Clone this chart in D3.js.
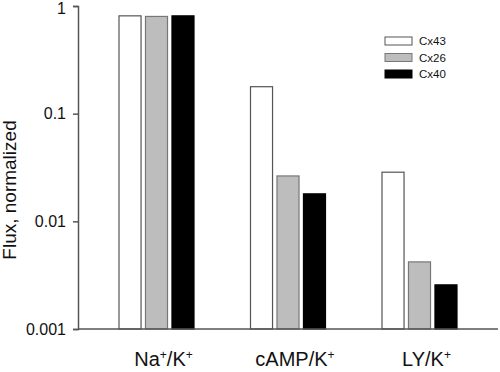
<!DOCTYPE html>
<html lang="en">
<head>
    <meta charset="UTF-8">
    <title>Flux, normalized</title>
    <script src="https://d3js.org/d3.v7.min.js"></script>
    <style>
        body { margin: 0; padding: 0; background: #fff; }
        text { font-family: "Liberation Sans", Arial, sans-serif; fill: #111; }
    </style>
</head>
<body>
    <div id="chart"></div>

    <script>
        // Data
        const categories = ["Na/K", "cAMP/K", "LY/K"];
        const catLabels = [["Na", "+", "/K", "+"], ["cAMP/K", "+"], ["LY/K", "+"]];
        const seriesNames = ["Cx43", "Cx26", "Cx40"];
        const cx43 = [0.81, 0.178, 0.0286];
        const cx26 = [0.80, 0.0264, 0.0042];
        const cx40 = [0.81, 0.0180, 0.00257];
        const yTicks = [0.001, 0.01, 0.1, 1];
        const yTickLabels = ["0.001", "0.01", "0.1", "1"];

        const fills = { Cx43: "#ffffff", Cx26: "#bdbdbd", Cx40: "#000000" };
        const strokes = { Cx43: "#555", Cx26: "#777", Cx40: "#000" };

        const width = 500, height = 372;
        const svg = d3.select("#chart").append("svg")
            .attr("width", width)
            .attr("height", height);

        const mLeft = 78, mRight = 498, mTop = 6, mBottom = 329;

        const y = d3.scaleLog().domain([0.001, 1]).range([mBottom, mTop]);
        const x0 = d3.scaleBand().domain(categories).range([mLeft, mRight])
            .paddingInner(0.422).paddingOuter(0.308);
        const x1 = d3.scaleBand().domain(seriesNames).range([0, x0.bandwidth()])
            .paddingInner(0.13);

        const rows = categories.map((c, i) => ({
            cat: c,
            values: [cx43[i], cx26[i], cx40[i]].map((v, j) => ({ name: seriesNames[j], v: v }))
        }));

        // bars
        const g = svg.selectAll("g.grp").data(rows).enter().append("g")
            .attr("class", "grp")
            .attr("transform", d => `translate(${x0(d.cat)},0)`);
        g.selectAll("rect").data(d => d.values).enter().append("rect")
            .attr("x", d => x1(d.name) + 0.5)
            .attr("y", d => y(d.v))
            .attr("width", x1.bandwidth() - 1)
            .attr("height", d => mBottom - y(d.v))
            .attr("fill", d => fills[d.name])
            .attr("stroke", d => strokes[d.name])
            .attr("stroke-width", 1.2);

        // y axis
        const yAxis = d3.axisLeft(y).tickValues(yTicks)
            .tickFormat((d, i) => yTickLabels[i])
            .tickSize(5).tickPadding(7);
        const ya = svg.append("g").attr("transform", `translate(${mLeft},0)`).call(yAxis);
        ya.select(".domain").attr("stroke", "#555").attr("stroke-width", 1.5);
        ya.selectAll(".tick line").attr("stroke", "#555").attr("stroke-width", 1.5);
        ya.selectAll("text").style("font-size", "16px").attr("fill", "#111")
            .style("font-family", "'Liberation Sans', Arial, sans-serif");
        // keep the top label inside the picture
        ya.selectAll(".tick").filter(d => d === 1).select("text").attr("y", 2);

        // x axis baseline
        svg.append("line")
            .attr("x1", mLeft).attr("x2", mRight)
            .attr("y1", mBottom).attr("y2", mBottom)
            .attr("stroke", "#555").attr("stroke-width", 1.5);

        // category labels with superscript plus
        categories.forEach((c, i) => {
            const t = svg.append("text")
                .attr("x", x0(c) + x0.bandwidth() / 2 + 7)
                .attr("y", 366)
                .attr("text-anchor", "middle")
                .style("font-size", "20px");
            catLabels[i].forEach(part => {
                if (part === "+") {
                    t.append("tspan").text("+").attr("baseline-shift", "super")
                        .style("font-size", "12px");
                } else {
                    t.append("tspan").text(part);
                }
            });
        });

        // y title
        svg.append("text")
            .attr("transform", "translate(16,190) rotate(-90)")
            .attr("text-anchor", "middle")
            .style("font-size", "19px")
            .text("Flux, normalized");

        // legend
        const legend = svg.append("g").attr("transform", "translate(385,37)");
        seriesNames.forEach((s, i) => {
            legend.append("rect")
                .attr("x", 0).attr("y", i * 16.5)
                .attr("width", 27).attr("height", 8)
                .attr("fill", fills[s]).attr("stroke", strokes[s]).attr("stroke-width", 1);
            legend.append("text")
                .attr("x", 34).attr("y", i * 16.5 + 8)
                .style("font-size", "11.5px")
                .text(s);
        });
    </script>
</body>
</html>
